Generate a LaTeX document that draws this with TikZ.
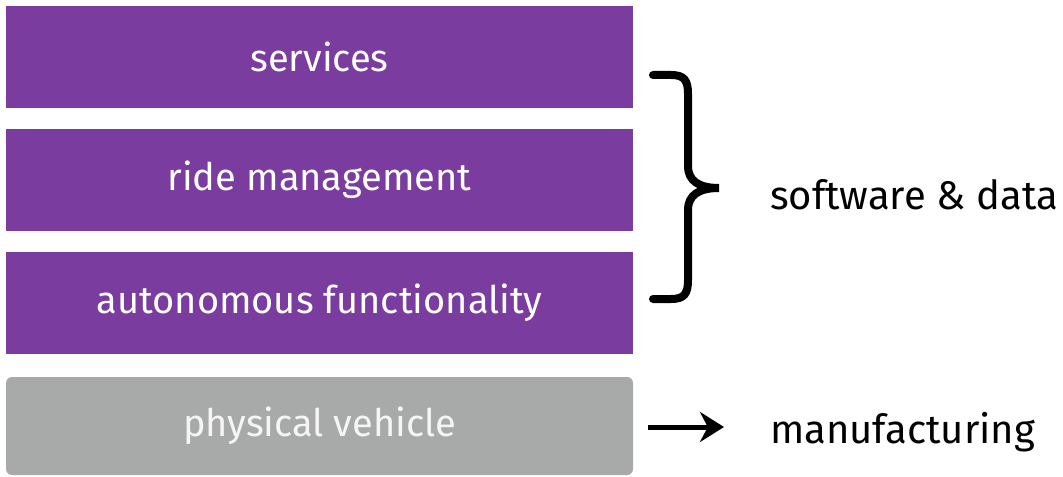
\documentclass[tikz,border=0pt]{standalone}
\usepackage{fontspec}
\setmainfont{Fira Sans}
\usepackage{xcolor}
\usetikzlibrary{arrows.meta}
\definecolor{layerpurple}{HTML}{7A3C9E}
\definecolor{layergray}{HTML}{A8AAA9}

\begin{document}
\begin{tikzpicture}[x=0.5pt,y=-0.5pt,>=Stealth,
layer/.style={fill=layerpurple,text=white,minimum width=313.5pt,minimum height=51pt,inner sep=0pt,font=\fontsize{19}{22}\selectfont},
side/.style={anchor=west,text=black,font=\fontsize{20}{24}\selectfont}]
\useasboundingbox (0,0) rectangle (1063,476);
% the four layers
\node[layer] (services) at (319.5,57) {services};
\node[layer] (ride) at (319.5,180) {ride management};
\node[layer] (auto) at (319.5,303) {autonomous functionality};
\node[layer,fill=layergray,text=white!92!gray,minimum height=49pt,rounded corners=3pt] (vehicle) at (319.5,426) {physical vehicle};
% labels on the right
\node[side] (software) at (763,195) {software \& data};
\node[side] (manuf) at (763,432) {manufacturing};
% brace
\coordinate (bracetop) at (653,75);
\coordinate (bracetip) at (719,188);
\coordinate (bracebot) at (653,299);
\draw[line width=4pt,line cap=round] (bracetop) -- (671,75) .. controls (684,75) and (688,80) .. (688,94) -- (688,166)
.. controls (688,181) and (699,188) .. (bracetip)
.. controls (699,188) and (688,195) .. (688,210) -- (688,280)
.. controls (688,294) and (684,299) .. (671,299) -- (bracebot);
% arrow
\coordinate (arrowstart) at (648,427);
\coordinate (arrowend) at (724,427);
\draw[-{Stealth[length=12pt,width=15pt]},line width=2.5pt] (arrowstart) -- (arrowend);
\end{tikzpicture}
\end{document}
